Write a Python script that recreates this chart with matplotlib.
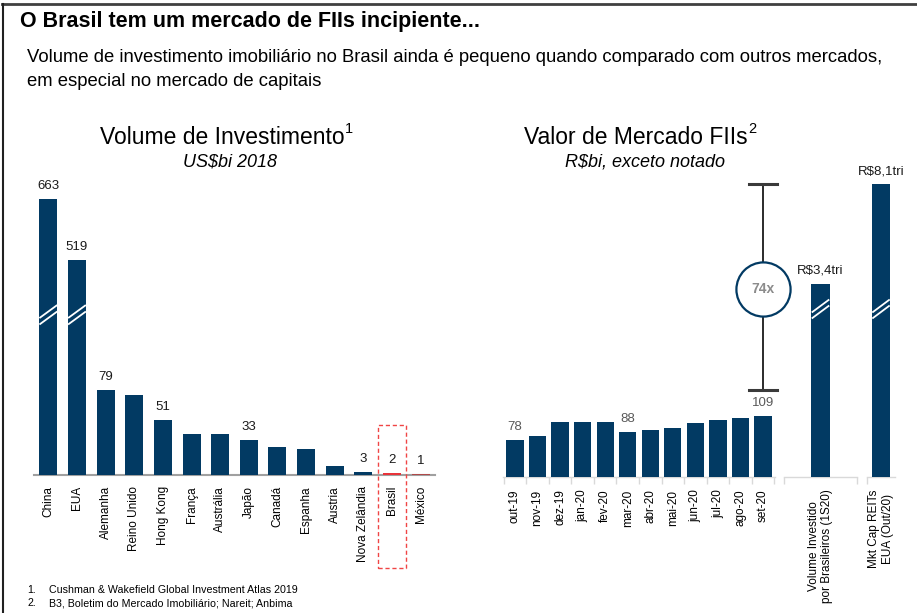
import matplotlib
matplotlib.use("Agg")
import matplotlib.pyplot as plt
import numpy as np
from matplotlib.patches import Rectangle
from matplotlib.lines import Line2D

plt.rcParams['font.family'] = ['Liberation Sans', 'DejaVu Sans']

# --- data ---
paises = ['China', 'EUA', 'Alemanha', 'Reino Unido', 'Hong Kong', 'França', 'Austrália',
          'Japão', 'Canadá', 'Espanha', 'Austria', 'Nova Zelândia', 'Brasil', 'México']
volume_invest = [663, 519, 79, 74, 51, 38, 38, 33, 26, 24, 8, 3, 2, 1]
volume_rotulos = ['663', '519', '79', '', '51', '', '', '33', '', '', '', '3', '2', '1']

meses = ['out-19', 'nov-19', 'dez-19', 'jan-20', 'fev-20', 'mar-20', 'abr-20',
         'mai-20', 'jun-20', 'jul-20', 'ago-20', 'set-20']
valor_fii = [78, 83, 101, 101, 101, 88, 91, 94, 100, 104, 107, 109]
valor_rotulos = ['78', '', '', '', '', '88', '', '', '', '', '', '109']

vol_brasileiros = 3400   # R$ bi
mktcap_reits = 8100      # R$ bi
multiplo = '74x'

NAVY = '#023a63'
W, H = 917, 613


def squash_esq(v):
    # eixo quebrado: valores grandes comprimidos
    return v if v <= 100 else 0.39 * v - 2


def squash_dir(v):
    return v if v <= 200 else 186.2 + 0.02747 * v


def add_ax(x0, y0, x1, y1):
    return fig.add_axes([x0 / W, 1 - y1 / H, (x1 - x0) / W, (y1 - y0) / H])


def ftext(x, y, s, **kw):
    fig.text(x / W, 1 - y / H, s, **kw)


def quebra(ax, xc, yb, half, dy, scale):
    for off in (0, dy):
        ax.plot([xc - half, xc + half], [yb + off, yb + off + 13 / scale], color='white',
                lw=1.3, zorder=5, solid_capstyle='butt')


fig = plt.figure(figsize=(W / 100, H / 100), dpi=100)

# moldura
fig.add_artist(Line2D([2 / W, 1], [1 - 4 / H, 1 - 4 / H], color='#404040', lw=2))
fig.add_artist(Line2D([2.5 / W, 2.5 / W], [0, 1 - 4 / H], color='#202020', lw=1.5))

ftext(20, 22, 'O Brasil tem um mercado de FIIs incipiente...', fontsize=15.5,
      fontweight='bold', va='center', ha='left')
ftext(27, 58, 'Volume de investimento imobiliário no Brasil ainda é pequeno quando comparado com outros mercados,',
      fontsize=13.3, va='center', ha='left')
ftext(27, 81, 'em especial no mercado de capitais', fontsize=13.3, va='center', ha='left')

# ---------------- esquerda ----------------
ax1 = add_ax(34, 190, 435, 475)
esc1 = 1.075  # px por unidade
ax1.set_xlim(-0.5, len(paises) - 0.5)
ax1.set_ylim(0, 285 / esc1)
x1 = np.arange(len(paises))
cores = [NAVY] * len(paises)
cores[paises.index('Brasil')] = '#e8333a'
cores[paises.index('México')] = '#b04a4a'
alturas = [squash_esq(v) for v in volume_invest]
ax1.bar(x1, alturas, width=0.63, color=cores, zorder=3)
for xi, h, r in zip(x1, alturas, volume_rotulos):
    if r:
        ax1.text(xi, h + 13 / esc1, r, ha='center', va='center', fontsize=9.5, color='#1a1a1a')
for i, v in enumerate(volume_invest):
    if v > 100:
        quebra(ax1, i, 140, 0.31, 6, esc1)
ax1.set_xticks(x1)
ax1.set_xticklabels(paises, rotation=90, fontsize=8.5, va='top')
ax1.tick_params(axis='x', length=0, pad=8)
ax1.set_yticks([])
for s in ['top', 'right', 'left']:
    ax1.spines[s].set_visible(False)
ax1.spines['bottom'].set_color('#a0a0a0')
ax1.spines['bottom'].set_linewidth(1.5)
ib = paises.index('Brasil')
ax1.add_patch(Rectangle((ib - 0.5, -93 / esc1), 1.0, 143 / esc1, fill=False, ec='#f04545',
                        ls=(0, (3, 2)), lw=1, clip_on=False, zorder=4))

ftext(222, 137, 'Volume de Investimento', fontsize=16.5, ha='center', va='center')
ftext(345, 129, '1', fontsize=10.5, ha='left', va='center')
ftext(230, 162, 'US$bi 2018', fontsize=13, style='italic', ha='center', va='center')

# ---------------- direita ----------------
esc2 = 0.774
base2 = 30.2
ylim2 = (base2, base2 + 327 / esc2)
ax3 = add_ax(784, 150, 857, 477)
ax4 = add_ax(867, 150, 895, 477)
ax2 = add_ax(503, 150, 775, 477)
ax2.set_xlim(-0.53, 11.53)
ax2.set_ylim(*ylim2)
x2 = np.arange(len(meses))
ax2.bar(x2, valor_fii, width=0.76, color=NAVY, zorder=3)
for xi, v, r in zip(x2, valor_fii, valor_rotulos):
    if r:
        ax2.text(xi, v + 13 / esc2, r, ha='center', va='center', fontsize=9.5, color='#595959')
ax2.set_xticks(x2)
ax2.set_xticklabels(meses, rotation=90, fontsize=8.5, va='top')
ax2.set_xticks(np.arange(-0.5, 12, 1), minor=True)

ax3.set_xlim(-0.5, 0.5)
ax3.set_ylim(*ylim2)
h3 = squash_dir(vol_brasileiros)
ax3.bar([0], [h3], width=0.25, color=NAVY, zorder=3)
ax3.text(0, h3 + 13 / esc2, 'R$3,4tri', ha='center', va='center', fontsize=9.5, color='#1a1a1a')
ax3.set_xticks([0])
ax3.set_xticklabels(['Volume Investido\npor Brasileiros (1S20)'], rotation=90, fontsize=8.5,
                    va='top', multialignment='center')
ax3.set_xticks([-0.5, 0.5], minor=True)
quebra(ax3, 0, 235, 0.12, 6 / esc2, esc2)

ax4.set_xlim(-0.5, 0.5)
ax4.set_ylim(*ylim2)
h4 = squash_dir(mktcap_reits)
ax4.bar([0], [h4], width=0.64, color=NAVY, zorder=3)
ax4.text(0, h4 + 13 / esc2, 'R$8,1tri', ha='center', va='center', fontsize=9.5,
         color='#1a1a1a', clip_on=False)
ax4.set_xticks([0])
ax4.set_xticklabels(['Mkt Cap REITs\nEUA (Out/20)'], rotation=90, fontsize=8.5,
                    va='top', multialignment='center')
ax4.set_xticks([-0.5], minor=True)
quebra(ax4, 0, 235, 0.31, 6 / esc2, esc2)

for ax in (ax2, ax3, ax4):
    ax.patch.set_visible(False)
    ax.set_yticks([])
    for s in ['top', 'right', 'left']:
        ax.spines[s].set_visible(False)
    ax.spines['bottom'].set_color('#d9d9d9')
    ax.spines['bottom'].set_linewidth(1)
    ax.tick_params(axis='x', which='major', length=0, pad=9)
    ax.tick_params(axis='x', which='minor', length=5, color='#d9d9d9', width=1)

# colchete 74x
xb = len(meses) - 1
y_top = h4
y_bot = valor_fii[-1] + 33
ax2.plot([xb, xb], [y_bot, y_top], color='#1a1a1a', lw=1.3, clip_on=False, zorder=4)
for yy in (y_bot, y_top):
    ax2.plot([xb - 0.62, xb + 0.62], [yy, yy], color='#3a3a3a', lw=2.2, clip_on=False, zorder=4)
yc = base2 + 188 / esc2
ax2.plot([xb], [yc], marker='o', ms=39, mfc='white', mec=NAVY, mew=1.6, clip_on=False, zorder=5)
ax2.text(xb, yc, multiplo, ha='center', va='center', fontsize=10, fontweight='bold',
         color='#8c8c8c', zorder=6)

ftext(636, 137, 'Valor de Mercado FIIs', fontsize=16.5, ha='center', va='center')
ftext(748, 129, '2', fontsize=10.5, ha='left', va='center')
ftext(645, 162, 'R$bi, exceto notado', fontsize=13, style='italic', ha='center', va='center')

# notas
ftext(27, 590, '1.', fontsize=7.7, va='center')
ftext(49, 590, 'Cushman & Wakefield Global Investment Atlas 2019', fontsize=7.7, va='center')
ftext(27, 603, '2.', fontsize=7.7, va='center')
ftext(49, 603, 'B3, Boletim do Mercado Imobiliário; Nareit; Anbima', fontsize=7.7, va='center')

fig.savefig('out.png', dpi=100, facecolor='white')
